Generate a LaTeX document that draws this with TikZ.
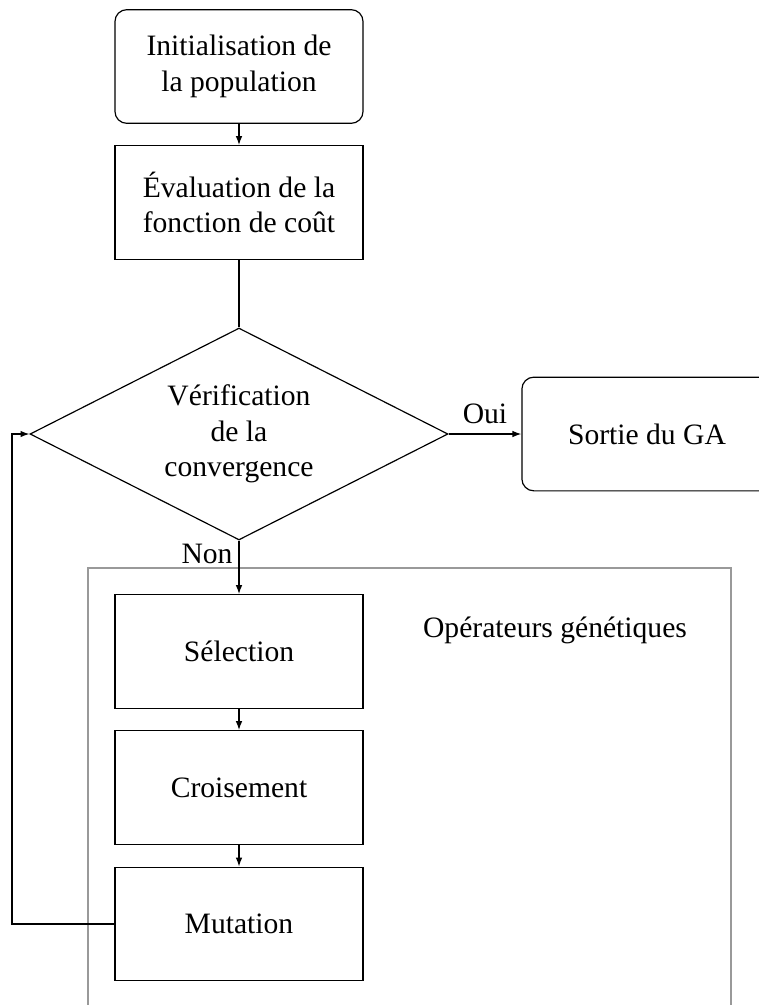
\documentclass[tikz,border=0pt]{standalone}
\usepackage{fontspec}
\setmainfont{Liberation Serif}
\usetikzlibrary{shapes.geometric,arrows.meta}
\begin{document}
\begin{tikzpicture}[x=0.3378pt,y=-0.3378pt,
  font=\fontsize{10}{12}\selectfont,
  box/.style={draw,minimum width=83.8pt,minimum height=38.4pt,align=center,inner sep=0pt},
  rbox/.style={box,rounded corners=4pt},
  dec/.style={draw,shape=diamond,minimum width=141.2pt,minimum height=71.6pt,inner sep=0pt},
  arr/.style={-{Latex[length=3pt,width=2.2pt]}},
  grp/.style={draw=black!40}]
\useasboundingbox (0,0) rectangle (759,1005);
\clip (0,0) rectangle (759,1005);
\draw[grp] (88,1030) -- (88,568) -- (731,568) -- (731,1030);
\node[rbox] (init) at (239,66.5) {Initialisation de\\la population};
\node[box] (eval) at (239,202.5) {Évaluation de la\\fonction de coût};
\node[dec] (conv) at (239,434) {};
\node[align=center,inner sep=0pt] (convt) at (239,434) {Vérification\\de la\\convergence};
\node[rbox,minimum width=84.5pt] (out) at (647,434) {Sortie du GA};
\node[box] (sel) at (239,651.5) {Sélection};
\node[box] (cro) at (239,787.5) {Croisement};
\node[box] (mut) at (239,924) {Mutation};
\node (ops) at (555,630) {Opérateurs génétiques};
\coordinate (back) at (12,924);
\draw[arr] (init) -- (eval);
\draw (eval) -- (conv.north);
\draw[arr] (conv.east) -- node[above] {Oui} (out.west);
\draw[arr] (conv.south) -- node[pos=0.25,left,inner sep=2pt] {Non} (sel.north);
\draw[arr] (sel) -- (cro);
\draw[arr] (cro) -- (mut);
\draw[arr] (mut.west) -- (back) |- (conv.west);
\end{tikzpicture}
\end{document}
